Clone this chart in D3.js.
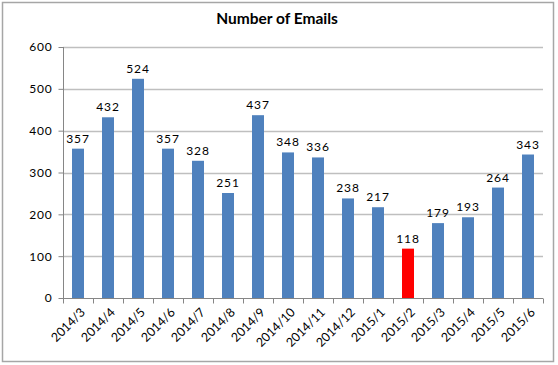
<!DOCTYPE html>
<html>
<head>
<meta charset="utf-8">
<script src="https://cdn.jsdelivr.net/npm/d3@7"></script>
<style>
  body { margin: 0; background: #fff; }
  text { font-family: Lato, "Open Sans", sans-serif; fill: #000; }
</style>
</head>
<body>
<div id="chart"></div>
<script>
// Data
var months = ["2014/3", "2014/4", "2014/5", "2014/6", "2014/7", "2014/8", "2014/9", "2014/10",
  "2014/11", "2014/12", "2015/1", "2015/2", "2015/3", "2015/4", "2015/5", "2015/6"];
var emails = [357, 432, 524, 357, 328, 251, 437, 348, 336, 238, 217, 118, 179, 193, 264, 343];
var highlight = ["2015/2"];
var yTicks = [0, 100, 200, 300, 400, 500, 600];

var svgWidth = 558;
var svgHeight = 365;

var margin = { top: 47, right: 15, bottom: 67, left: 63 };
var width = 543 - margin.left;
var height = 298 - margin.top;

var svg = d3.select("#chart")
  .append("svg")
  .attr("width", svgWidth)
  .attr("height", svgHeight);

// Outer border
svg.append("rect")
  .attr("x", 2.5).attr("y", 2.5)
  .attr("width", 551).attr("height", 359)
  .attr("fill", "#fff")
  .attr("stroke", "#a6a6a6")
  .attr("stroke-width", 1.5);

// Title
svg.append("text")
  .attr("x", 277)
  .attr("y", 24)
  .attr("text-anchor", "middle")
  .style("font-size", "15.5px")
  .style("font-weight", "bold")
  .text("Number of Emails");

var chartGroup = svg.append("g")
  .attr("transform", `translate(${margin.left}, ${margin.top})`);

var xScale = d3.scaleBand()
  .domain(months)
  .range([0, width])
  .paddingInner(0.6)
  .paddingOuter(0.3);

var yScale = d3.scaleLinear()
  .domain([0, 600])
  .range([height, 0]);

// Gridlines
chartGroup.append("g")
  .selectAll("line")
  .data(yTicks.slice(1))
  .enter()
  .append("line")
  .attr("x1", 0)
  .attr("x2", width)
  .attr("y1", d => Math.round(yScale(d)) + 0.5)
  .attr("y2", d => Math.round(yScale(d)) + 0.5)
  .attr("stroke", "#bfbfbf")
  .attr("stroke-width", 1.5);

// Left axis
var leftAxis = d3.axisLeft(yScale)
  .tickValues(yTicks)
  .tickSize(5)
  .tickPadding(6);

var yAxisG = chartGroup.append("g")
  .attr("transform", "translate(0.5, 0)")
  .call(leftAxis);
yAxisG.select(".domain").attr("stroke", "#868686").attr("d", `M0,0V${height}`);
yAxisG.selectAll(".tick line").attr("stroke", "#868686");
yAxisG.selectAll("text")
  .style("font-size", "12px")
  .style("letter-spacing", "0.8px")
  .style("font-family", "Lato, sans-serif")
  .attr("fill", "#000");

// Bars
chartGroup.selectAll("rect.bar")
  .data(months)
  .enter()
  .append("rect")
  .attr("class", "bar")
  .attr("x", d => xScale(d))
  .attr("width", xScale.bandwidth())
  .attr("y", (d, i) => yScale(emails[i]))
  .attr("height", (d, i) => height - yScale(emails[i]))
  .attr("fill", d => highlight.includes(d) ? "#ff0000" : "#4f81bd");

// Value labels
chartGroup.selectAll("text.val")
  .data(months)
  .enter()
  .append("text")
  .attr("class", "val")
  .attr("x", d => xScale(d) + xScale.bandwidth() / 2)
  .attr("y", (d, i) => yScale(emails[i]) - 6)
  .attr("text-anchor", "middle")
  .style("font-size", "12px")
  .style("letter-spacing", "0.8px")
  .text((d, i) => emails[i]);

// Bottom axis with category boundary ticks
var edges = d3.range(months.length + 1).map(i => i * (width / months.length));

var xAxisG = chartGroup.append("g")
  .attr("transform", `translate(0, ${height + 0.5})`);
xAxisG.append("line")
  .attr("x1", 0).attr("x2", width)
  .attr("stroke", "#868686");
xAxisG.selectAll("line.tk")
  .data(edges)
  .enter()
  .append("line")
  .attr("class", "tk")
  .attr("x1", d => Math.round(d) + 0.5)
  .attr("x2", d => Math.round(d) + 0.5)
  .attr("y1", 0)
  .attr("y2", 5)
  .attr("stroke", "#868686");

var bottomAxis = d3.axisBottom(xScale).tickSize(0).tickPadding(0);
var xLabels = chartGroup.append("g")
  .attr("transform", `translate(0, ${height})`)
  .call(bottomAxis);
xLabels.select(".domain").remove();
xLabels.selectAll("text")
  .style("font-size", "12.5px")
  .style("font-family", "Lato, sans-serif")
  .attr("fill", "#000")
  .attr("text-anchor", "end")
  .attr("dy", null)
  .attr("y", 0)
  .attr("transform", "translate(8, 15) rotate(-45)");
</script>
</body>
</html>
